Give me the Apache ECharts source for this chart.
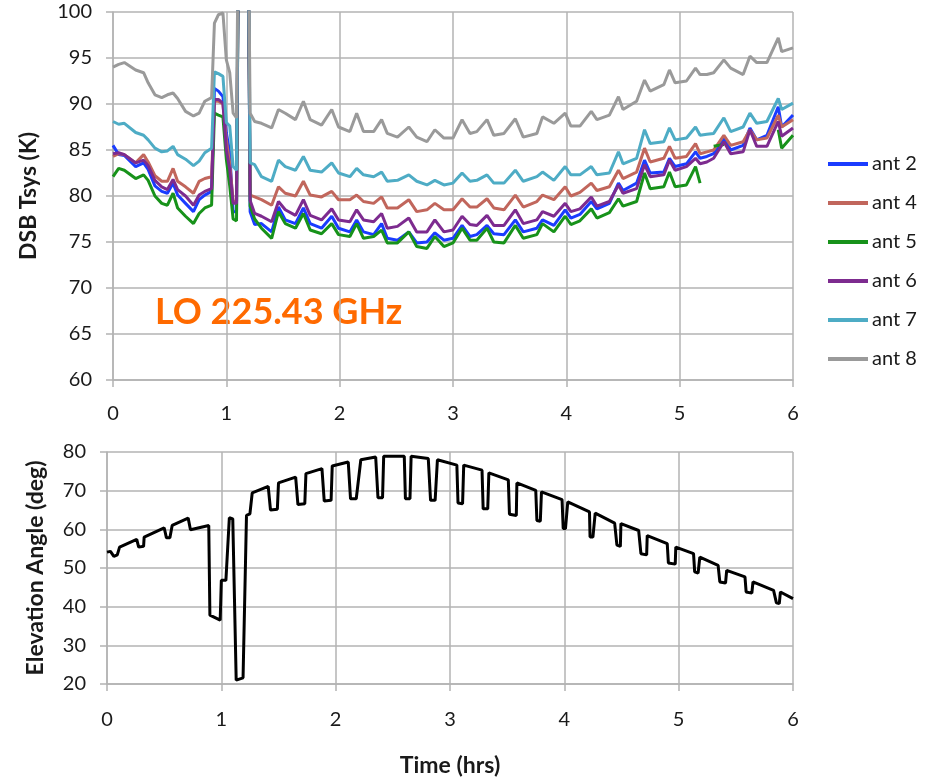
<!DOCTYPE html>
<html>
<head>
<meta charset="utf-8" />
<title>Tsys vs elevation</title>
<script src="https://cdn.jsdelivr.net/npm/echarts@6.0.0/dist/echarts.min.js"></script>
<style>
html, body { margin: 0; padding: 0; background: #fff; }
</style>
</head>
<body>
<div id="main" style="width: 928px;height:779px;"></div>
<script type="text/javascript">
// time samples (hrs) shared by all Tsys curves
var hoursTop = [
  0, 0.05, 0.1, 0.2, 0.27, 0.31, 0.37, 0.43, 0.48, 0.53, 0.57, 0.64, 0.71, 0.76, 0.81, 0.87,
  0.895, 0.93, 0.97, 1.0, 1.03, 1.06, 1.09, 1.11, 1.19, 1.21,
  1.25, 1.31, 1.40, 1.46, 1.52, 1.61, 1.68, 1.74, 1.84, 1.93,
  1.99, 2.09, 2.15, 2.21, 2.30, 2.37, 2.42, 2.51, 2.61, 2.68,
  2.77, 2.84, 2.92, 3.00, 3.08, 3.15, 3.21, 3.30, 3.36, 3.45,
  3.55, 3.62, 3.74, 3.79, 3.89, 3.99, 4.04, 4.12, 4.22, 4.27,
  4.38, 4.46, 4.50, 4.62, 4.69, 4.74, 4.86, 4.91, 4.96, 5.06,
  5.14, 5.18, 5.24, 5.30, 5.39, 5.45, 5.56, 5.62, 5.68, 5.77,
  5.87, 5.90, 6.00
];

// DSB Tsys (K) per antenna (115 = off the top)
var ant2 = [
  85.5, 84.5, 84.4, 83.2, 83.6, 82.9, 81.1, 80.5, 80.3, 81.4, 80.1, 79.2, 78.3, 79.6, 80.1, 80.5,
  91.7, 91.4, 90.8, 86.9, 84.7, 78.3, 78.3, 115, 115, 78.3,
  76.9, 77.0, 76.1, 78.8, 77.4, 77.0, 78.7, 77.0, 76.5, 77.8,
  76.5, 76.1, 77.4, 76.1, 75.8, 77.0, 75.4, 75.2, 76.1, 74.9,
  75.0, 76.0, 75.2, 75.4, 76.8, 75.6, 75.8, 76.8, 75.9, 75.8,
  77.4, 76.1, 76.5, 77.4, 76.8, 78.5, 77.6, 78.0, 79.4, 78.6,
  79.2, 81.4, 80.6, 81.4, 83.9, 82.5, 82.6, 84.1, 83.2, 83.5,
  84.8, 84.1, 84.3, 84.6, 86.3, 85.0, 85.5, 87.4, 86.1, 86.6,
  89.7, 87.5, 88.8
];
var ant4 = [
  84.3, 84.6, 84.5, 83.6, 84.5, 83.7, 82.2, 81.6, 81.6, 83.0, 81.6, 81.0, 80.3, 81.6, 81.9, 82.1,
  90.3, 90.3, 90.0, 86.1, 83.5, 79.5, 79.2, 115, 115, 80.1,
  79.9, 79.6, 79.0, 81.0, 80.3, 80.0, 81.6, 80.1, 79.9, 80.5,
  79.6, 79.6, 80.1, 79.4, 79.2, 79.9, 78.7, 78.7, 79.6, 78.3,
  78.5, 79.2, 78.5, 78.5, 79.7, 78.8, 78.8, 79.7, 78.7, 78.5,
  80.1, 78.8, 79.4, 80.1, 79.6, 81.0, 80.0, 80.4, 81.4, 80.6,
  81.0, 82.8, 81.9, 82.6, 85.2, 83.7, 84.1, 85.4, 84.1, 84.3,
  85.7, 84.6, 84.8, 85.0, 86.6, 85.5, 85.9, 87.2, 86.1, 86.3,
  88.8, 87.5, 88.3
];
var ant5 = [
  82.1, 83.0, 82.8, 81.9, 82.3, 81.7, 80.0, 79.2, 79.0, 80.3, 78.7, 77.8, 77.0, 78.1, 78.7, 79.0,
  89.0, 88.8, 88.6, 84.0, 81.1, 77.5, 77.3, 115, 115, 78.9,
  77.5, 76.5, 75.4, 78.3, 77.0, 76.5, 78.1, 76.3, 75.9, 77.0,
  75.8, 75.6, 77.0, 75.4, 75.6, 76.3, 74.9, 74.9, 76.1, 74.5,
  74.3, 75.6, 74.5, 74.9, 76.5, 75.2, 75.2, 76.5, 75.0, 74.9,
  76.8, 75.4, 75.8, 77.0, 76.1, 77.8, 76.9, 77.3, 78.6, 77.6,
  78.2, 79.7, 78.9, 79.4, 82.5, 80.8, 81.0, 82.6, 81.0, 81.2,
  83.2, 81.4, null, 85.4, 85.6, null, null, null, null, null,
  87.2, 85.2, 86.6
];
var ant6 = [
  84.6, 84.7, 84.5, 83.6, 83.9, 83.3, 81.7, 81.0, 80.7, 81.8, 80.7, 80.0, 79.0, 80.1, 80.5, 80.8,
  90.5, 90.5, 90.1, 85.0, 82.9, 79.2, 79.2, 115, 115, 79.5,
  78.1, 77.8, 77.2, 79.4, 78.5, 77.9, 79.6, 77.9, 77.4, 78.6,
  77.4, 77.2, 78.5, 77.4, 77.2, 78.1, 76.5, 76.7, 77.6, 76.1,
  76.1, 77.4, 76.1, 76.3, 77.8, 76.9, 76.8, 77.9, 76.8, 76.8,
  78.5, 77.0, 77.4, 78.3, 77.8, 79.2, 78.3, 78.6, 79.9, 78.9,
  79.4, 81.2, 80.3, 80.8, 83.4, 82.1, 82.3, 83.9, 82.8, 83.2,
  84.1, 83.5, 83.7, 84.1, 85.9, 84.6, 84.8, 87.2, 85.4, 85.4,
  88.1, 86.5, 87.4
];
var ant7 = [
  88.1, 87.8, 87.9, 86.9, 86.6, 86.1, 85.2, 84.8, 84.9, 85.4, 84.5, 84.0, 83.3, 83.8, 84.7, 85.2,
  93.5, 93.3, 93.0, 88.0, 87.6, 83.2, 82.8, 115, 115, 83.6,
  83.4, 82.1, 81.6, 83.9, 83.2, 82.8, 84.3, 82.8, 82.6, 83.6,
  82.5, 82.1, 83.0, 82.3, 82.1, 82.6, 81.6, 81.7, 82.3, 81.6,
  81.2, 81.7, 81.2, 81.4, 82.5, 81.6, 81.7, 82.3, 81.4, 81.4,
  82.8, 81.6, 82.1, 82.6, 81.7, 83.2, 82.3, 82.3, 83.2, 82.3,
  82.5, 84.8, 83.5, 84.1, 87.2, 85.7, 85.9, 87.4, 86.1, 86.3,
  87.5, 86.6, 86.7, 86.8, 88.5, 87.0, 87.5, 89.0, 87.9, 88.1,
  90.6, 89.4, 90.1
];
var ant8 = [
  94.0, 94.3, 94.5, 93.7, 93.4, 92.3, 91.0, 90.7, 91.0, 91.2, 90.6, 89.2, 88.7, 89.0, 90.3, 90.7,
  98.8, 99.7, 99.9, 94.8, 93.4, 89.0, 88.5, 115, 115, 89.0,
  88.1, 87.9, 87.4, 89.4, 89.0, 88.3, 90.3, 88.3, 87.7, 89.4,
  87.5, 87.0, 89.0, 87.0, 87.0, 88.3, 86.8, 86.4, 87.5, 86.4,
  85.9, 87.2, 86.3, 86.3, 88.3, 86.8, 87.0, 88.3, 86.6, 86.8,
  88.4, 86.4, 86.8, 88.6, 87.9, 89.0, 87.6, 87.6, 89.2, 88.3,
  88.8, 90.8, 89.4, 90.3, 92.6, 91.4, 92.1, 93.7, 92.3, 92.5,
  93.9, 93.2, 93.2, 93.4, 94.8, 93.9, 93.2, 95.2, 94.5, 94.5,
  97.2, 95.7, 96.1
];

// elevation angle (deg)
var elevHours = [
  0, 0.03, 0.06, 0.09, 0.11, 0.26, 0.277, 0.32, 0.325, 0.50, 0.52, 0.55, 0.57, 0.71, 0.73, 0.89,
  0.90, 0.99, 1.0, 1.04, 1.07, 1.10, 1.13, 1.19, 1.22, 1.25, 1.27,
  1.41, 1.43, 1.49, 1.50, 1.65, 1.67, 1.73, 1.74, 1.88, 1.90, 1.96, 1.97,
  2.11, 2.13, 2.18, 2.22, 2.35, 2.37, 2.41, 2.42, 2.60, 2.61, 2.65, 2.66,
  2.81, 2.83, 2.87, 2.89, 3.06, 3.07, 3.11, 3.12, 3.28, 3.29, 3.33, 3.34,
  3.51, 3.52, 3.58, 3.585, 3.75, 3.76, 3.79, 3.80, 3.98, 3.99, 4.01, 4.03,
  4.22, 4.225, 4.25, 4.27, 4.44, 4.46, 4.49, 4.495, 4.65, 4.67, 4.72, 4.725,
  4.90, 4.91, 4.97, 4.975, 5.13, 5.14, 5.17, 5.185, 5.345, 5.36, 5.41, 5.42,
  5.58, 5.59, 5.64, 5.65, 5.83, 5.855, 5.88, 5.89, 6.0
];
var elevDeg = [
  54.1, 54.3, 53.0, 53.4, 55.4, 57.4, 55.4, 55.6, 58.0, 60.4, 57.8, 57.8, 61.0, 62.9, 59.9, 61.0,
  37.8, 36.5, 46.8, 46.8, 63.0, 62.7, 21.0, 21.6, 63.6, 64.0, 69.4,
  71.1, 65.0, 65.2, 72.0, 73.5, 66.4, 66.6, 74.4, 75.7, 67.3, 67.5, 76.4,
  77.4, 67.9, 67.9, 78.0, 78.7, 68.2, 68.2, 78.9, 78.9, 67.9, 67.9, 78.9,
  78.3, 67.5, 67.5, 78.0, 76.6, 66.8, 66.6, 76.6, 75.3, 65.3, 65.3, 74.6,
  72.8, 63.9, 63.6, 72.0, 70.1, 62.3, 62.1, 69.7, 67.7, 60.2, 60.2, 67.1,
  64.5, 58.0, 58.0, 64.2, 61.6, 55.9, 55.6, 61.5, 59.7, 53.7, 53.4, 58.4,
  56.3, 51.3, 51.0, 55.4, 53.7, 49.0, 48.7, 52.8, 50.7, 46.4, 46.1, 49.4,
  47.7, 43.8, 43.5, 46.4, 44.2, 41.0, 40.8, 43.8, 42.1
];

var antNames = ['ant 2', 'ant 4', 'ant 5', 'ant 6', 'ant 7', 'ant 8'];
var antValues = [ant2, ant4, ant5, ant6, ant7, ant8];
var antColors = ['#1a3cff', '#c1665c', '#17921a', '#7d2b8f', '#4eacc5', '#9a9a9a'];

var font = 'Lato, "Open Sans", sans-serif';
var gridColor = '#b3b3b3';
var textColor = '#1a1a1a';

function pairs(xs, ys) {
  return xs.map(function (x, i) {
    return [x, ys[i] === null ? '-' : ys[i]];
  });
}

function xAxisFor(gridIndex, margin, name) {
  return {
    type: 'value', gridIndex: gridIndex, min: 0, max: 6, interval: 1,
    axisLine: { show: true, lineStyle: { color: gridColor, width: 1.5 } },
    axisTick: { show: true, length: 7, lineStyle: { color: gridColor, width: 1.5 } },
    splitLine: { show: true, lineStyle: { color: gridColor, width: 1.5 } },
    axisLabel: { fontFamily: font, fontSize: 20, color: textColor, margin: margin },
    name: name, nameLocation: 'middle', nameGap: 70,
    nameTextStyle: { fontFamily: font, fontSize: 23, fontWeight: 'bold', color: textColor }
  };
}

function yAxisFor(gridIndex, min, max, interval, name, gap) {
  return {
    type: 'value', gridIndex: gridIndex, min: min, max: max, interval: interval,
    axisLine: { show: true, lineStyle: { color: gridColor, width: 1.5 } },
    axisTick: { show: true, length: 7, lineStyle: { color: gridColor, width: 1.5 } },
    splitLine: { show: true, lineStyle: { color: gridColor, width: 1.5 } },
    axisLabel: { fontFamily: font, fontSize: 20, color: textColor, margin: 21 },
    name: name, nameLocation: 'middle', nameGap: gap, nameRotate: 90,
    nameTextStyle: { fontFamily: font, fontSize: 23, fontWeight: 'bold', color: textColor }
  };
}

var myChart = echarts.init(document.getElementById('main'));

var series = antNames.map(function (n, i) {
  return {
    name: n, type: 'line', xAxisIndex: 0, yAxisIndex: 0,
    data: pairs(hoursTop, antValues[i]),
    showSymbol: false, symbol: 'none',
    lineStyle: { color: antColors[i], width: 3 },
    itemStyle: { color: antColors[i] }
  };
});
series.push({
  name: 'elevation', type: 'line', xAxisIndex: 1, yAxisIndex: 1,
  data: pairs(elevHours, elevDeg),
  showSymbol: false, symbol: 'none',
  lineStyle: { color: '#000', width: 3 }
});

var option = {
  animation: false,
  backgroundColor: '#fff',
  grid: [
    { left: 113, top: 12, width: 680, height: 368 },
    { left: 107, top: 452, width: 686, height: 232 }
  ],
  xAxis: [xAxisFor(0, 24, ''), xAxisFor(1, 26, 'Time (hrs)')],
  yAxis: [
    yAxisFor(0, 60, 100, 5, 'DSB Tsys (K)', 73),
    yAxisFor(1, 20, 80, 10, 'Elevation Angle (deg)', 60)
  ],
  legend: {
    data: antNames, orient: 'vertical', left: 823, top: 149,
    icon: 'rect', itemWidth: 40, itemHeight: 4, itemGap: 19,
    textStyle: { fontFamily: font, fontSize: 20, color: textColor, padding: [0, 0, 0, -1] }
  },
  graphic: [{
    type: 'text', left: 155, top: 294,
    style: {
      text: 'LO 225.43 GHz', fill: '#ff6a00',
      font: 'bold 36px ' + font
    }
  }],
  series: series
};

myChart.setOption(option);
</script>
</body>
</html>
